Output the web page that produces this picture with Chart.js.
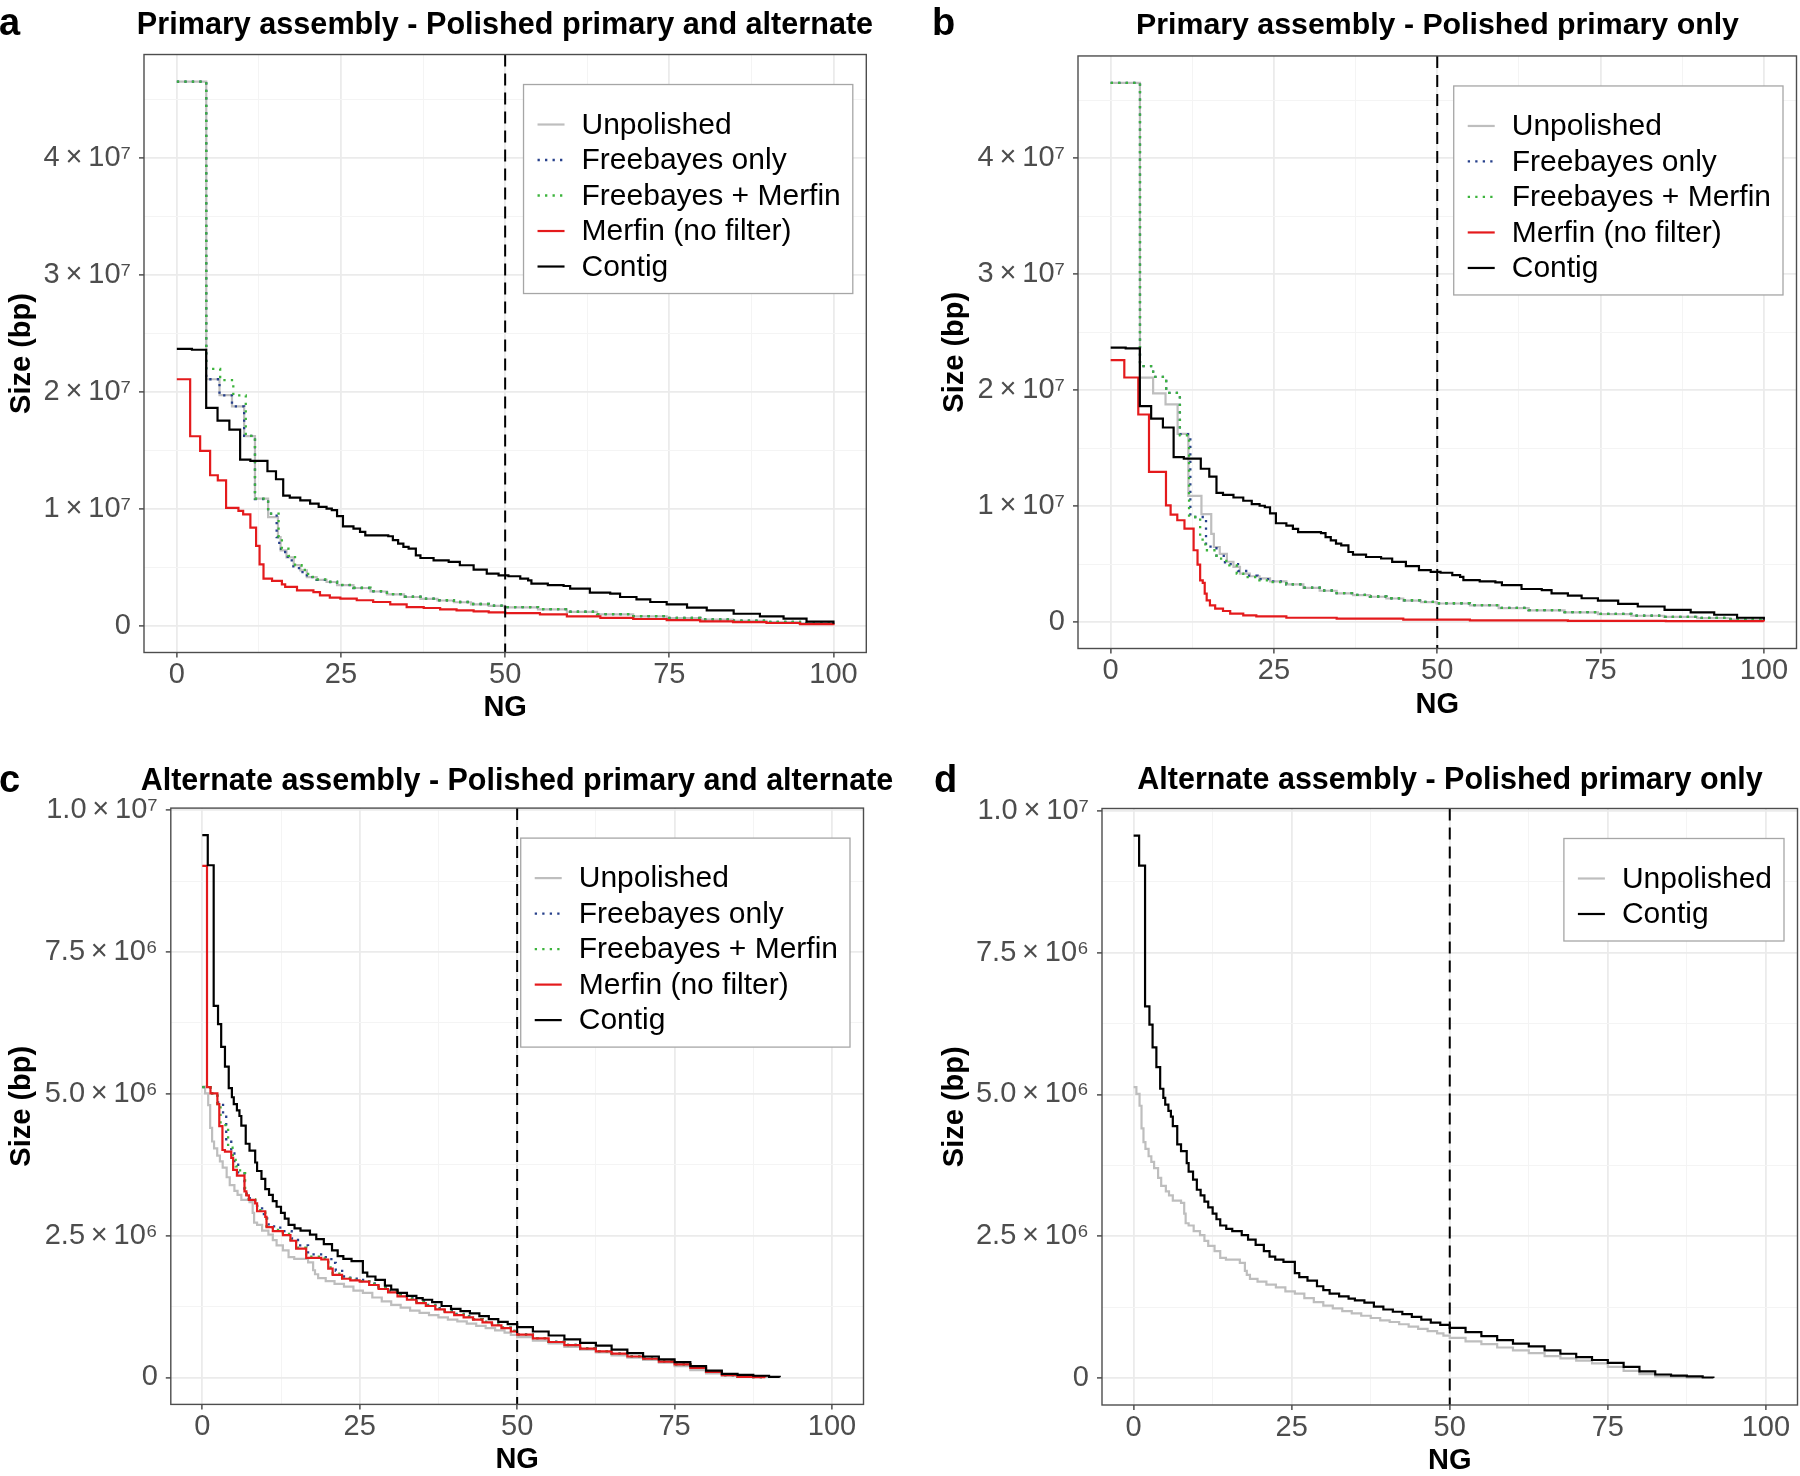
<!DOCTYPE html>
<html><head><meta charset="utf-8">
<script src="https://cdn.jsdelivr.net/npm/chart.js@4.4.1/dist/chart.umd.min.js"></script>
<style>
html,body{margin:0;padding:0;background:#fff;overflow:hidden;}
#wrap{position:relative;width:1800px;height:1476px;overflow:hidden;background:#fff;}
canvas{position:absolute;}
.tag{position:absolute;font-family:"Liberation Sans",Arial,Helvetica,sans-serif;font-weight:bold;font-size:38px;line-height:38px;color:#000;}
</style></head><body>
<div id="wrap">
<canvas id="pa"></canvas>
<canvas id="pb"></canvas>
<canvas id="pc"></canvas>
<canvas id="pd"></canvas>
<div class="tag" style="left:-1px;top:3px">a</div>
<div class="tag" style="left:932px;top:3px">b</div>
<div class="tag" style="left:-1px;top:760px">c</div>
<div class="tag" style="left:934px;top:760px">d</div>
</div>
<script>
// ---------------- DATA (NG in %, size in bp) ----------------
const ngTicks = [0, 25, 50, 75, 100];
const ngTickLabels = ['0', '25', '50', '75', '100'];
const ngMinor = [12.5, 37.5, 62.5, 87.5];
const ngMark = 50;

const primaryYTicks = [0, 1e7, 2e7, 3e7, 4e7];
const primaryYLabels = ['0', '1\u2009\u00d7\u200910\u2077', '2\u2009\u00d7\u200910\u2077', '3\u2009\u00d7\u200910\u2077', '4\u2009\u00d7\u200910\u2077'];
const primaryYMinor = [5e6, 1.5e7, 2.5e7, 3.5e7, 4.5e7];

const altYTicks = [0, 2.5e6, 5e6, 7.5e6, 1e7];
const altYLabels = ['0', '2.5\u2009\u00d7\u200910\u2076', '5.0\u2009\u00d7\u200910\u2076', '7.5\u2009\u00d7\u200910\u2076', '1.0\u2009\u00d7\u200910\u2077'];
const altYMinor = [1.25e6, 3.75e6, 6.25e6, 8.75e6];

const seriesNames = ['Unpolished', 'Freebayes only', 'Freebayes + Merfin', 'Merfin (no filter)', 'Contig'];

// Primary assembly - contigs (panels a, b)
const primaryContigNG = [0, 2.3, 4.47, 6.2, 8.0, 9.64, 11.2, 13.8, 15.1, 16.2, 17.2, 18.8, 20.3, 21.6, 22.8, 23.6, 24.4, 25.3, 26.9, 27.9, 28.7, 32.2, 32.9, 33.7, 34.5, 35.3, 36.4, 37.1, 39.1, 41.4, 43.1, 45.2, 47.2, 49.0, 50.5, 52.3, 53.5, 54.0, 56.5, 58.9, 59.9, 62.9, 66.0, 67.5, 70.0, 72.1, 74.6, 77.7, 80.7, 84.8, 88.8, 92.4, 95.9, 100];
const primaryContigSize = [2.367e7, 2.36e7, 1.863e7, 1.755e7, 1.678e7, 1.422e7, 1.41e7, 1.322e7, 1.254e7, 1.114e7, 1.097e7, 1.074e7, 1.046e7, 1.017e7, 1.003e7, 0.99e7, 0.938e7, 0.852e7, 0.832e7, 0.804e7, 0.775e7, 0.767e7, 0.733e7, 0.704e7, 0.676e7, 0.661e7, 0.604e7, 0.581e7, 0.561e7, 0.548e7, 0.519e7, 0.482e7, 0.447e7, 0.433e7, 0.425e7, 0.405e7, 0.39e7, 0.362e7, 0.35e7, 0.342e7, 0.319e7, 0.285e7, 0.276e7, 0.248e7, 0.228e7, 0.205e7, 0.185e7, 0.157e7, 0.134e7, 0.105e7, 0.083e7, 0.063e7, 0.037e7, 0.02e7];

// Primary assembly - unpolished scaffolds (panels a, b)
const primaryUnpolishedNG = [0, 4.48, 6.5, 8.4, 10.25, 11.9, 13.9, 15.4, 15.8, 16.7, 17.8, 18.8, 19.8, 21.3, 22.8, 24.4, 26.9, 29.5, 32.0, 34.6, 37.1, 39.7, 42.2, 44.8, 47.5, 49.9, 55.0, 59.4, 64.0, 69.5, 74.6, 79.7, 84.7, 89.8, 94.9, 100];
const primaryUnpolishedSize = [4.65e7, 2.108e7, 1.972e7, 1.877e7, 1.622e7, 1.088e7, 0.93e7, 0.76e7, 0.647e7, 0.587e7, 0.52e7, 0.475e7, 0.417e7, 0.395e7, 0.376e7, 0.35e7, 0.325e7, 0.295e7, 0.27e7, 0.248e7, 0.232e7, 0.218e7, 0.203e7, 0.185e7, 0.172e7, 0.16e7, 0.143e7, 0.12e7, 0.1e7, 0.083e7, 0.068e7, 0.054e7, 0.044e7, 0.034e7, 0.022e7, 0.011e7];

// Panel a - polished primary and alternate
const aFreebayesNG = [0, 4.48, 6.5, 8.4, 10.25, 11.9, 13.9, 15.2, 15.6, 16.5, 17.5, 18.6, 19.8, 21.3, 22.8, 24.4, 26.9, 29.5, 32.0, 34.6, 37.1, 39.7, 42.2, 44.8, 47.5, 49.9, 55.0, 59.4, 64.0, 69.5, 74.6, 79.7, 84.7, 89.8, 94.9, 100];
const aFreebayesSize = [4.65e7, 2.108e7, 1.97e7, 1.877e7, 1.624e7, 1.085e7, 0.96e7, 0.76e7, 0.66e7, 0.59e7, 0.51e7, 0.46e7, 0.417e7, 0.395e7, 0.376e7, 0.35e7, 0.325e7, 0.297e7, 0.272e7, 0.25e7, 0.234e7, 0.22e7, 0.205e7, 0.188e7, 0.174e7, 0.162e7, 0.145e7, 0.122e7, 0.102e7, 0.085e7, 0.07e7, 0.056e7, 0.045e7, 0.035e7, 0.023e7, 0.011e7];
const aFbMerfinNG = [0, 4.48, 6.6, 8.6, 10.5, 11.9, 13.9, 15.5, 16.0, 17.0, 18.0, 19.0, 20.0, 21.3, 22.8, 24.4, 26.9, 29.5, 32.0, 34.6, 37.1, 39.7, 42.2, 44.8, 47.5, 49.9, 55.0, 59.4, 64.0, 69.5, 74.6, 79.7, 84.7, 89.8, 94.9, 100];
const aFbMerfinSize = [4.65e7, 2.196e7, 2.1e7, 1.97e7, 1.624e7, 1.088e7, 0.96e7, 0.76e7, 0.66e7, 0.6e7, 0.52e7, 0.48e7, 0.42e7, 0.398e7, 0.378e7, 0.352e7, 0.327e7, 0.298e7, 0.273e7, 0.25e7, 0.234e7, 0.22e7, 0.205e7, 0.188e7, 0.174e7, 0.162e7, 0.145e7, 0.122e7, 0.102e7, 0.085e7, 0.07e7, 0.056e7, 0.045e7, 0.035e7, 0.023e7, 0.011e7];
const aMerfinNG = [0, 2.03, 3.55, 5.07, 6.24, 7.5, 9.38, 10.1, 11.2, 12.07, 12.6, 13.2, 14.5, 16.0, 16.5, 18.3, 20.8, 21.8, 23.3, 24.9, 27.4, 29.9, 32.5, 35.0, 37.6, 40.1, 42.6, 45.2, 47.5, 50.0, 55.3, 59.4, 64.5, 69.5, 74.6, 79.7, 84.7, 89.8, 94.9, 100];
const aMerfinSize = [2.108e7, 1.621e7, 1.496e7, 1.288e7, 1.245e7, 1.009e7, 0.983e7, 0.954e7, 0.84e7, 0.684e7, 0.527e7, 0.405e7, 0.385e7, 0.356e7, 0.334e7, 0.305e7, 0.29e7, 0.262e7, 0.242e7, 0.234e7, 0.22e7, 0.205e7, 0.185e7, 0.162e7, 0.154e7, 0.142e7, 0.134e7, 0.125e7, 0.117e7, 0.111e7, 0.1e7, 0.083e7, 0.07e7, 0.06e7, 0.05e7, 0.04e7, 0.033e7, 0.026e7, 0.016e7, 0.006e7];

// Panel b - polished primary only
const bFreebayesNG = [0, 4.49, 6.5, 8.5, 10.6, 12.2, 14.6, 16.2, 17.5, 19.5, 21.0, 22.5, 24.4, 26.9, 29.5, 32.0, 34.6, 37.1, 39.7, 42.2, 44.8, 47.5, 49.9, 55.0, 59.4, 64.0, 69.5, 74.6, 79.7, 84.7, 89.8, 94.9, 100];
const bFreebayesSize = [4.65e7, 2.207e7, 2.115e7, 1.977e7, 1.62e7, 0.906e7, 0.65e7, 0.57e7, 0.5e7, 0.44e7, 0.4e7, 0.37e7, 0.35e7, 0.325e7, 0.297e7, 0.272e7, 0.25e7, 0.234e7, 0.22e7, 0.205e7, 0.188e7, 0.174e7, 0.162e7, 0.145e7, 0.122e7, 0.102e7, 0.085e7, 0.07e7, 0.056e7, 0.045e7, 0.035e7, 0.023e7, 0.011e7];
const bFbMerfinNG = [0, 4.49, 6.5, 8.5, 10.6, 12.0, 13.7, 14.5, 16.2, 17.7, 19.3, 20.3, 22.3, 24.4, 26.9, 29.5, 32.0, 34.6, 37.1, 39.7, 42.2, 44.8, 47.5, 49.9, 55.0, 59.4, 64.0, 69.5, 74.6, 79.7, 84.7, 89.8, 94.9, 100];
const bFbMerfinSize = [4.65e7, 2.207e7, 2.115e7, 1.977e7, 1.611e7, 0.906e7, 0.711e7, 0.619e7, 0.547e7, 0.489e7, 0.417e7, 0.388e7, 0.36e7, 0.345e7, 0.325e7, 0.297e7, 0.272e7, 0.25e7, 0.234e7, 0.22e7, 0.205e7, 0.188e7, 0.174e7, 0.162e7, 0.145e7, 0.122e7, 0.102e7, 0.085e7, 0.07e7, 0.056e7, 0.045e7, 0.035e7, 0.023e7, 0.011e7];
const bMerfinNG = [0, 2.09, 4.23, 5.87, 8.47, 9.18, 10.2, 11.3, 12.7, 13.3, 13.7, 14.1, 14.4, 14.7, 15.2, 16.0, 17.2, 18.3, 20.3, 22.3, 26.9, 34.6, 44.8, 55.0, 70.0, 85.0, 100];
const bMerfinSize = [2.259e7, 2.109e7, 1.79e7, 1.295e7, 1.007e7, 0.927e7, 0.878e7, 0.806e7, 0.619e7, 0.495e7, 0.36e7, 0.337e7, 0.245e7, 0.187e7, 0.144e7, 0.115e7, 0.095e7, 0.072e7, 0.058e7, 0.049e7, 0.037e7, 0.029e7, 0.02e7, 0.014e7, 0.01e7, 0.007e7, 0.004e7];

// Alternate assembly - contigs (panels c, d)
const altContigNG = [0, 0.87, 1.81, 2.5, 3.0, 3.6, 4.2, 4.7, 5.0, 5.5, 5.9, 6.2, 6.9, 7.5, 8.4, 8.7, 9.4, 10.0, 10.6, 11.2, 11.8, 12.5, 13.1, 13.7, 14.65, 15.6, 17.1, 18.1, 19.3, 20.6, 21.5, 22.4, 23.7, 25.5, 26.2, 27.5, 29.0, 30.0, 31.0, 32.5, 34.0, 35.0, 36.5, 38.0, 39.5, 41.0, 42.5, 44.0, 45.5, 47.0, 48.5, 50.0, 52.5, 55.0, 57.5, 60.0, 62.5, 65.0, 67.5, 70.0, 72.5, 75.0, 77.5, 80.0, 82.5, 85.0, 87.5, 90.0, 91.7];
const altContigSize = [9.56e6, 9.03e6, 6.55e6, 6.23e6, 5.83e6, 5.48e6, 5.1e6, 4.94e6, 4.82e6, 4.71e6, 4.61e6, 4.44e6, 4.12e6, 4.0e6, 3.79e6, 3.64e6, 3.5e6, 3.32e6, 3.22e6, 3.11e6, 3.01e6, 2.9e6, 2.8e6, 2.69e6, 2.63e6, 2.59e6, 2.52e6, 2.44e6, 2.35e6, 2.24e6, 2.14e6, 2.09e6, 2.05e6, 1.85e6, 1.78e6, 1.72e6, 1.62e6, 1.55e6, 1.49e6, 1.44e6, 1.4e6, 1.37e6, 1.33e6, 1.26e6, 1.21e6, 1.17e6, 1.13e6, 1.08e6, 1.03e6, 0.98e6, 0.94e6, 0.886e6, 0.81e6, 0.74e6, 0.67e6, 0.61e6, 0.56e6, 0.49e6, 0.43e6, 0.37e6, 0.32e6, 0.27e6, 0.2e6, 0.12e6, 0.065e6, 0.045e6, 0.03e6, 0.012e6, 0.005e6];

// Alternate assembly - unpolished scaffolds (panels c, d)
const altUnpolishedNG = [0, 0.44, 0.94, 1.25, 1.56, 1.87, 2.37, 2.8, 3.24, 3.87, 4.36, 5.1, 5.6, 6.2, 7.5, 8.0, 8.23, 8.7, 9.5, 10.5, 11.2, 11.8, 12.8, 13.7, 14.6, 16.8, 17.6, 17.9, 18.4, 19.6, 21.0, 22.5, 24.0, 25.5, 27.0, 28.5, 30.0, 31.5, 33.0, 34.5, 36.0, 37.5, 39.0, 40.5, 42.0, 43.5, 45.0, 46.5, 48.0, 49.0, 50.0, 52.5, 55.0, 57.5, 60.0, 62.5, 65.0, 67.5, 70.0, 72.5, 75.0, 77.5, 80.0, 82.5, 85.0, 87.5, 89.8];
const altUnpolishedSize = [5.13e6, 5.01e6, 4.8e6, 4.4e6, 4.16e6, 4.04e6, 3.91e6, 3.81e6, 3.7e6, 3.53e6, 3.39e6, 3.29e6, 3.22e6, 3.13e6, 3.09e6, 2.9e6, 2.73e6, 2.69e6, 2.59e6, 2.52e6, 2.42e6, 2.33e6, 2.24e6, 2.12e6, 2.09e6, 2.03e6, 1.89e6, 1.82e6, 1.75e6, 1.7e6, 1.65e6, 1.6e6, 1.53e6, 1.49e6, 1.41e6, 1.34e6, 1.28e6, 1.23e6, 1.18e6, 1.14e6, 1.1e6, 1.06e6, 1.02e6, 0.99e6, 0.95e6, 0.91e6, 0.87e6, 0.83e6, 0.79e6, 0.75e6, 0.71e6, 0.65e6, 0.6e6, 0.54e6, 0.49e6, 0.44e6, 0.39e6, 0.35e6, 0.31e6, 0.26e6, 0.2e6, 0.13e6, 0.07e6, 0.03e6, 0.017e6, 0.01e6, 0.005e6];

// Panel c - polished primary and alternate
const cFreebayesNG = [0, 1.3, 2.4, 3.3, 3.8, 4.6, 5.1, 5.7, 6.7, 7.0, 7.4, 8.4, 8.7, 9.5, 10.3, 11.4, 12.9, 14.2, 15.2, 16.8, 19.2, 20.5, 21.2, 22.5, 23.5, 25.0, 26.5, 28.0, 29.5, 31.0, 32.5, 34.0, 35.5, 37.0, 38.5, 40.0, 41.5, 43.0, 44.5, 46.0, 47.5, 49.0, 50.0, 52.5, 55.0, 57.5, 60.0, 62.5, 65.0, 67.5, 70.0, 72.5, 75.0, 77.5, 80.0, 82.5, 85.0, 87.5, 89.4];
const cFreebayesSize = [5.12e6, 5.01e6, 4.85e6, 4.63e6, 4.2e6, 3.95e6, 3.75e6, 3.6e6, 3.3e6, 3.24e6, 3.16e6, 3.1e6, 2.98e6, 2.88e6, 2.7e6, 2.64e6, 2.58e6, 2.45e6, 2.33e6, 2.17e6, 2.12e6, 2.02e6, 1.88e6, 1.78e6, 1.74e6, 1.72e6, 1.66e6, 1.59e6, 1.53e6, 1.46e6, 1.4e6, 1.34e6, 1.28e6, 1.22e6, 1.17e6, 1.12e6, 1.08e6, 1.03e6, 0.98e6, 0.93e6, 0.88e6, 0.82e6, 0.76e6, 0.695e6, 0.63e6, 0.575e6, 0.515e6, 0.465e6, 0.425e6, 0.375e6, 0.335e6, 0.285e6, 0.235e6, 0.175e6, 0.1e6, 0.04e6, 0.012e6, 0.006e6, 0.003e6];
const cFbMerfinNG = [0, 1.3, 2.4, 2.9, 4.1, 4.8, 5.3, 6.0, 6.8, 7.0, 7.4, 8.4, 8.7, 10.0, 10.2, 11.2, 12.8, 14.0, 14.9, 16.5, 18.9, 20.0, 20.7, 22.2, 23.5, 25.0, 26.5, 28.0, 29.5, 31.0, 32.5, 34.0, 35.5, 37.0, 38.5, 40.0, 41.5, 43.0, 44.5, 46.0, 47.5, 49.0, 50.0, 52.5, 55.0, 57.5, 60.0, 62.5, 65.0, 67.5, 70.0, 72.5, 75.0, 77.5, 80.0, 82.5, 85.0, 87.5, 89.4];
const cFbMerfinSize = [5.12e6, 5.01e6, 4.82e6, 4.45e6, 4.05e6, 3.92e6, 3.72e6, 3.6e6, 3.3e6, 3.22e6, 3.14e6, 3.08e6, 2.95e6, 2.85e6, 2.67e6, 2.6e6, 2.53e6, 2.43e6, 2.29e6, 2.13e6, 2.1e6, 1.94e6, 1.83e6, 1.75e6, 1.72e6, 1.7e6, 1.65e6, 1.58e6, 1.52e6, 1.45e6, 1.39e6, 1.33e6, 1.27e6, 1.21e6, 1.16e6, 1.11e6, 1.07e6, 1.03e6, 0.98e6, 0.93e6, 0.88e6, 0.82e6, 0.757e6, 0.692e6, 0.627e6, 0.572e6, 0.512e6, 0.462e6, 0.422e6, 0.372e6, 0.332e6, 0.282e6, 0.232e6, 0.172e6, 0.1e6, 0.04e6, 0.012e6, 0.006e6, 0.003e6];
const cMerfinNG = [0, 0.75, 1.3, 2.4, 2.7, 3.2, 3.6, 4.6, 4.9, 5.5, 6.7, 7.0, 7.4, 8.4, 8.7, 10.0, 10.2, 11.2, 12.8, 14.0, 14.9, 16.5, 18.9, 20.0, 20.7, 22.2, 23.5, 25.0, 26.5, 28.0, 29.5, 31.0, 32.5, 34.0, 35.5, 37.0, 38.5, 40.0, 41.5, 43.0, 44.5, 46.0, 47.5, 49.0, 50.0, 52.5, 55.0, 57.5, 60.0, 62.5, 65.0, 67.5, 70.0, 72.5, 75.0, 77.5, 80.0, 82.5, 85.0, 87.5, 89.4];
const cMerfinSize = [9.02e6, 5.12e6, 5.01e6, 4.82e6, 4.43e6, 4.01e6, 3.98e6, 3.87e6, 3.66e6, 3.56e6, 3.28e6, 3.21e6, 3.13e6, 3.07e6, 2.93e6, 2.83e6, 2.65e6, 2.58e6, 2.51e6, 2.41e6, 2.27e6, 2.11e6, 2.08e6, 1.92e6, 1.81e6, 1.74e6, 1.71e6, 1.69e6, 1.63e6, 1.56e6, 1.5e6, 1.43e6, 1.37e6, 1.31e6, 1.26e6, 1.2e6, 1.15e6, 1.1e6, 1.06e6, 1.02e6, 0.97e6, 0.92e6, 0.87e6, 0.81e6, 0.754e6, 0.69e6, 0.625e6, 0.57e6, 0.51e6, 0.46e6, 0.42e6, 0.37e6, 0.33e6, 0.28e6, 0.23e6, 0.17e6, 0.1e6, 0.04e6, 0.012e6, 0.006e6, 0.003e6];

// ---------------- STYLE ----------------
const FONT = '"Liberation Sans", Arial, Helvetica, sans-serif';
Chart.defaults.font.family = FONT;
const STYLE = {
  'Unpolished':         {color: '#bebebe', width: 2.2, dash: [],         z: 5},
  'Freebayes only':     {color: '#27408b', width: 2.3, dash: [2.3, 5.2], z: 4},
  'Freebayes + Merfin': {color: '#3cb43c', width: 2.3, dash: [2.3, 5.2], z: 3},
  'Merfin (no filter)': {color: '#e41a1c', width: 2.2, dash: [],         z: 2},
  'Contig':             {color: '#000000', width: 2.2, dash: [],         z: 1}
};
const GRID_MAJOR = '#ebebeb', GRID_MINOR = '#f4f4f4', AXIS_DARK = '#333333';

// ---------------- PLUGINS ----------------
const ngLine = {
  id: 'ngLine',
  afterDatasetsDraw(chart) {
    const {ctx, chartArea: ca, scales} = chart;
    const px = scales.x.getPixelForValue(ngMark);
    ctx.save();
    ctx.beginPath();
    ctx.setLineDash([12, 7]);
    ctx.strokeStyle = '#000';
    ctx.lineWidth = 2;
    ctx.moveTo(px, ca.top);
    ctx.lineTo(px, ca.bottom);
    ctx.stroke();
    ctx.restore();
  }
};
const frame = {
  id: 'frame',
  afterDatasetsDraw(chart) {
    const {ctx, chartArea: ca} = chart;
    ctx.save();
    ctx.strokeStyle = '#4d4d4d';
    ctx.lineWidth = 1.4;
    ctx.strokeRect(ca.left, ca.top, ca.right - ca.left, ca.bottom - ca.top);
    ctx.restore();
  }
};
const boxLegend = {
  id: 'boxLegend',
  afterDraw(chart, args, o) {
    const {ctx, chartArea: ca} = chart;
    const items = chart.data.datasets;
    ctx.save();
    ctx.font = o.fontSize + 'px ' + FONT;
    const tw = Math.max(...items.map(d => ctx.measureText(d.label).width));
    const w = o.padL + o.sample + o.gap + tw + o.padR;
    const h = o.padTop + (items.length - 1) * o.rowH + o.padBottom;
    const x = ca.right - o.marginR - w;
    const y = ca.top + o.marginT;
    ctx.fillStyle = '#ffffff';
    ctx.fillRect(x, y, w, h);
    ctx.strokeStyle = '#a6a6a6';
    ctx.lineWidth = 1.3;
    ctx.strokeRect(x, y, w, h);
    items.forEach((d, i) => {
      const cy = y + o.padTop + i * o.rowH;
      ctx.beginPath();
      ctx.setLineDash(d.borderDash || []);
      ctx.lineCap = 'butt';
      ctx.strokeStyle = d.borderColor;
      ctx.lineWidth = d.borderWidth;
      ctx.moveTo(x + o.padL, cy);
      ctx.lineTo(x + o.padL + o.sample, cy);
      ctx.stroke();
      ctx.setLineDash([]);
      ctx.fillStyle = '#000';
      ctx.textBaseline = 'middle';
      ctx.textAlign = 'left';
      ctx.fillText(d.label, x + o.padL + o.sample + o.gap, cy + 1);
    });
    ctx.restore();
  }
};

// ---------------- BUILD ----------------
function makeDataset(name, ng, size) {
  const s = STYLE[name];
  return {
    label: name,
    data: ng.map((x, i) => ({x: x, y: size[i]})),
    xAxisID: 'x',
    yAxisID: 'y',
    stepped: true,
    borderColor: s.color,
    borderWidth: s.width,
    borderDash: s.dash,
    borderCapStyle: 'butt',
    pointRadius: 0,
    fill: false,
    order: s.z
  };
}

function makeChart(p) {
  const L = p.box;
  // canvas is made wide enough that its centre sits over the panel centre,
  // so the (full-width) chart title is centred over the plotting panel.
  const W = Math.round(L.left + L.right);
  const H = 738;
  const cv = document.getElementById(p.id);
  cv.width = W; cv.height = H;
  cv.style.left = p.ox + 'px'; cv.style.top = p.oy + 'px';
  const datasets = p.series.map(s => makeDataset(s[0], s[1], s[2]));
  const all = p.series.flatMap(s => s[2]);
  const lo = Math.min(...all), hi = Math.max(...all);
  const pad = 0.05 * (hi - lo);
  const xMap = new Map(ngTicks.map((v, i) => [v, ngTickLabels[i]]));
  const yMap = new Map(p.yTicks.map((v, i) => [v, p.yLabels[i]]));
  const xAll = [...ngTicks, ...ngMinor].sort((a, b) => a - b);
  const yAll = [...p.yTicks, ...p.yMinor].sort((a, b) => a - b);
  const isMajX = v => xMap.has(v);
  const isMajY = v => yMap.has(v);
  new Chart(cv, {
    type: 'line',
    data: {datasets},
    plugins: [ngLine, frame, boxLegend],
    options: {
      responsive: false,
      animation: false,
      devicePixelRatio: 1,
      layout: {padding: {left: 0, right: 0, top: 0, bottom: 0}},
      plugins: {
        legend: {display: false},
        tooltip: {enabled: false},
        title: {
          display: true, text: p.title, fullSize: true, color: '#000',
          font: {family: FONT, size: L.titleSize, weight: 'bold', lineHeight: 1.2},
          padding: {top: L.titleTop, bottom: L.titleBottom}
        },
        boxLegend: {fontSize: 30, padL: 14, sample: 27, gap: 17, padR: 12, padTop: 40, rowH: 35.5, padBottom: 27, marginR: 13.5, marginT: 30}
      },
      scales: {
        x: {
          type: 'linear', min: -5, max: 105,
          afterBuildTicks: sc => { sc.ticks = xAll.map(v => ({value: v})); },
          afterFit: sc => { sc.height = L.xH; },
          border: {display: false},
          grid: {
            color: c => isMajX(c.tick.value) ? GRID_MAJOR : GRID_MINOR,
            lineWidth: c => isMajX(c.tick.value) ? 1.8 : 1,
            tickColor: c => isMajX(c.tick.value) ? AXIS_DARK : 'rgba(0,0,0,0)',
            tickLength: 5, tickWidth: 1.3, drawTicks: true
          },
          ticks: {
            autoSkip: false, maxRotation: 0, minRotation: 0, padding: 3, color: '#4d4d4d',
            font: {family: FONT, size: 29, lineHeight: 1},
            callback: v => xMap.has(v) ? xMap.get(v) : ''
          },
          title: {
            display: true, text: 'NG', color: '#000',
            font: {family: FONT, size: 29, weight: 'bold', lineHeight: 1},
            padding: {top: 0, bottom: L.xTitlePad}
          }
        },
        y: {
          type: 'linear', position: 'left', min: lo - pad, max: hi + pad,
          afterBuildTicks: sc => { sc.ticks = yAll.map(v => ({value: v})); },
          afterFit: sc => { sc.width = L.left; },
          border: {display: false},
          grid: {
            color: c => isMajY(c.tick.value) ? GRID_MAJOR : GRID_MINOR,
            lineWidth: c => isMajY(c.tick.value) ? 1.8 : 1,
            tickColor: c => isMajY(c.tick.value) ? AXIS_DARK : 'rgba(0,0,0,0)',
            tickLength: 5, tickWidth: 1.3, drawTicks: true
          },
          ticks: {
            autoSkip: false, padding: 8, color: '#4d4d4d',
            font: {family: FONT, size: 29, lineHeight: 1},
            callback: v => yMap.has(v) ? yMap.get(v) : ''
          },
          title: {
            display: true, text: 'Size (bp)', color: '#000',
            font: {family: FONT, size: 29, weight: 'bold', lineHeight: 1},
            padding: {top: L.yTitleX - 14.5, bottom: 0}
          }
        },
        yRight: {
          type: 'linear', axis: 'y', position: 'right', display: true, min: 0, max: 1,
          afterFit: sc => { sc.width = W - L.right; },
          border: {display: false},
          grid: {display: false, drawTicks: false, drawOnChartArea: false},
          ticks: {display: false},
          title: {display: false}
        }
      }
    }
  });
}

const PANELS = [
  {id: 'pa', ox: 0, oy: 0, title: 'Primary assembly - Polished primary and alternate',
   yTicks: primaryYTicks, yLabels: primaryYLabels, yMinor: primaryYMinor,
   series: [[seriesNames[0], primaryUnpolishedNG, primaryUnpolishedSize],
            [seriesNames[1], aFreebayesNG, aFreebayesSize],
            [seriesNames[2], aFbMerfinNG, aFbMerfinSize],
            [seriesNames[3], aMerfinNG, aMerfinSize],
            [seriesNames[4], primaryContigNG, primaryContigSize]],
   box: {left: 144, right: 866.3, titleSize: 30.6, titleTop: 7.3, titleBottom: 10.5, xH: 85.5, xTitlePad: 15.5, yTitleX: 21.5}},
  {id: 'pb', ox: 900, oy: 0, title: 'Primary assembly - Polished primary only',
   yTicks: primaryYTicks, yLabels: primaryYLabels, yMinor: primaryYMinor,
   series: [[seriesNames[0], primaryUnpolishedNG, primaryUnpolishedSize],
            [seriesNames[1], bFreebayesNG, bFreebayesSize],
            [seriesNames[2], bFbMerfinNG, bFbMerfinSize],
            [seriesNames[3], bMerfinNG, bMerfinSize],
            [seriesNames[4], primaryContigNG, primaryContigSize]],
   box: {left: 178, right: 896.5, titleSize: 30.3, titleTop: 7.4, titleBottom: 12.2, xH: 89.5, xTitlePad: 18.5, yTitleX: 54.6}},
  {id: 'pc', ox: 0, oy: 738, title: 'Alternate assembly - Polished primary and alternate',
   yTicks: altYTicks, yLabels: altYLabels, yMinor: altYMinor,
   series: [[seriesNames[0], altUnpolishedNG, altUnpolishedSize],
            [seriesNames[1], cFreebayesNG, cFreebayesSize],
            [seriesNames[2], cFbMerfinNG, cFbMerfinSize],
            [seriesNames[3], cMerfinNG, cMerfinSize],
            [seriesNames[4], altContigNG, altContigSize]],
   box: {left: 170.8, right: 863.5, titleSize: 30.5, titleTop: 25.5, titleBottom: 8.0, xH: 71.6, xTitlePad: 1.5, yTitleX: 21.5}},
  {id: 'pd', ox: 900, oy: 738, title: 'Alternate assembly - Polished primary only',
   yTicks: altYTicks, yLabels: altYLabels, yMinor: altYMinor,
   series: [[seriesNames[0], altUnpolishedNG, altUnpolishedSize],
            [seriesNames[4], altContigNG, altContigSize]],
   box: {left: 202, right: 897.5, titleSize: 30.5, titleTop: 24.3, titleBottom: 9.6, xH: 71, xTitlePad: 0.5, yTitleX: 54.6}}
];
PANELS.forEach(makeChart);
</script>
</body></html>
